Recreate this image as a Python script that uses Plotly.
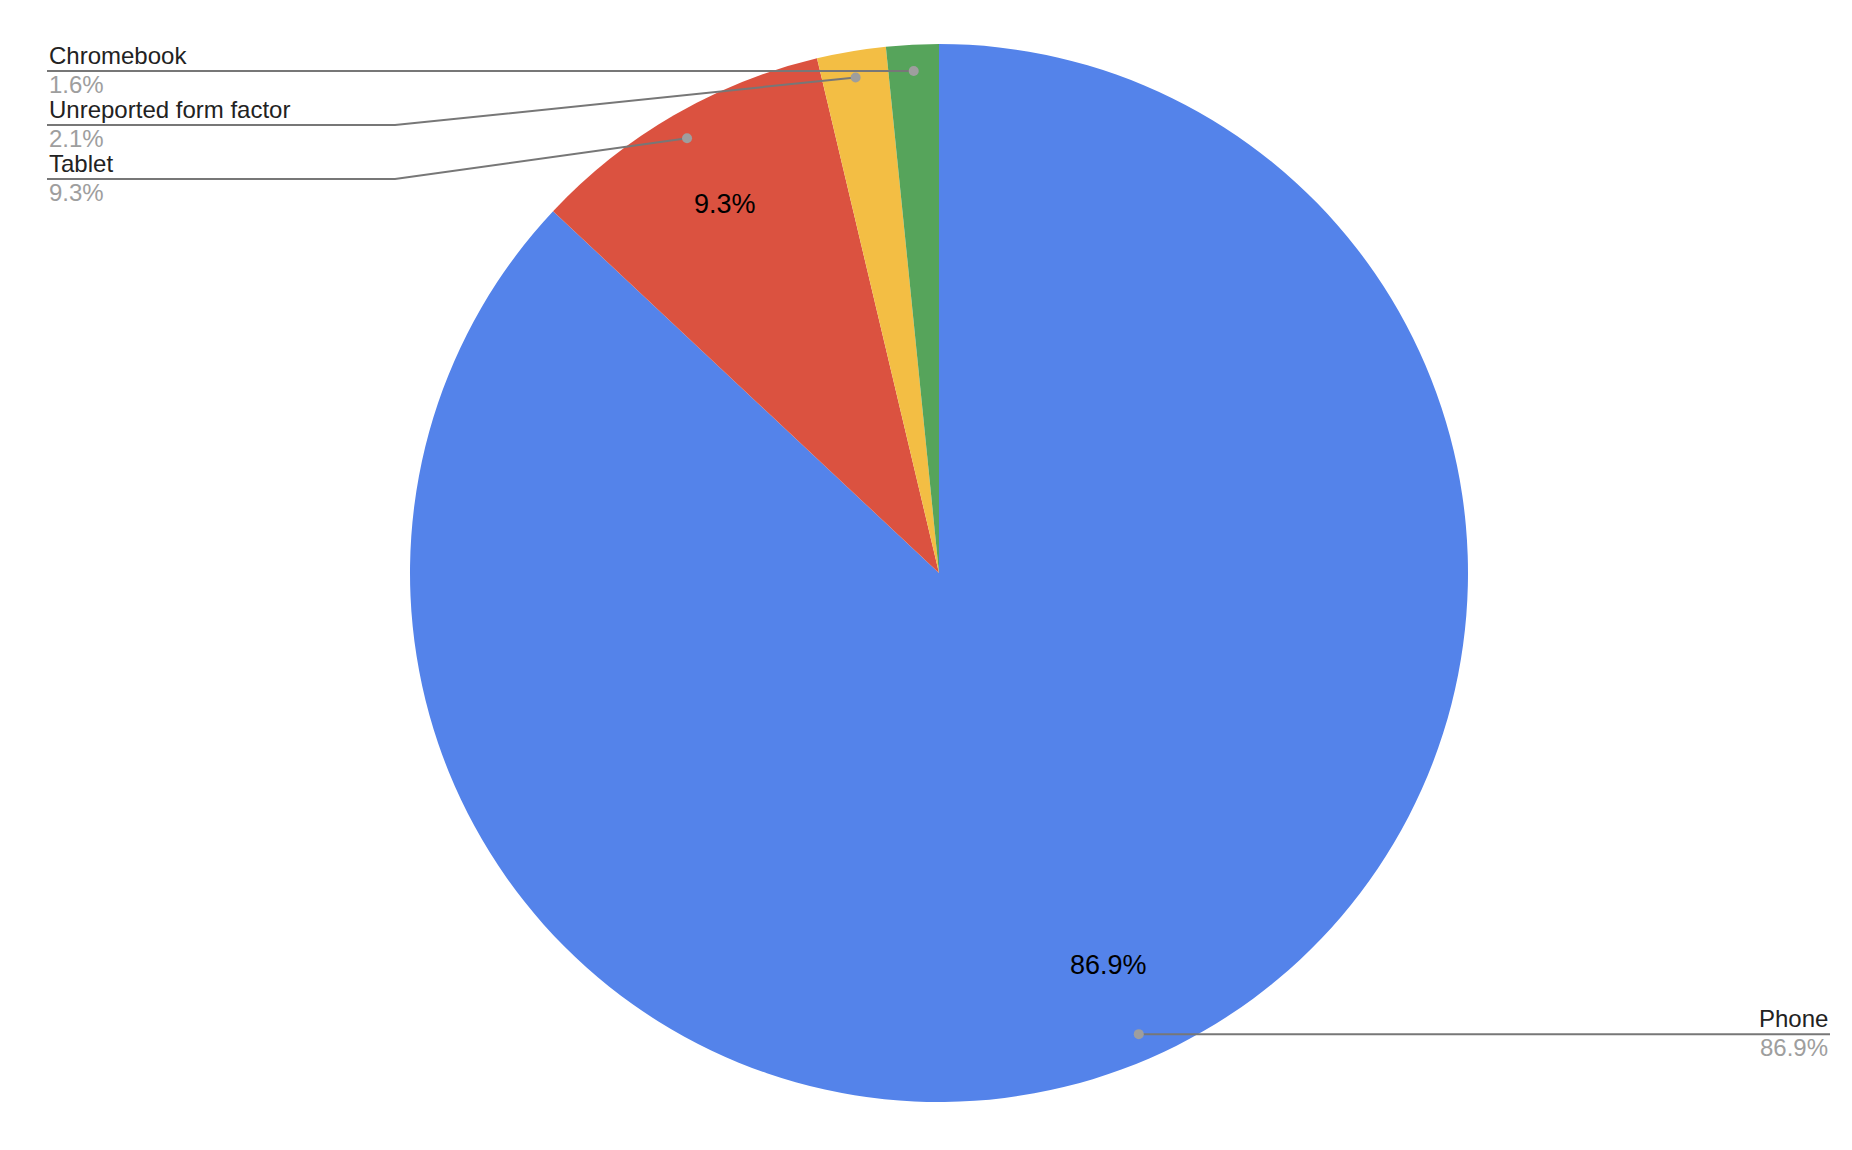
import math
import plotly.graph_objects as go

# Data
labels = ["Phone", "Tablet", "Unreported form factor", "Chromebook"]
values = [86.9, 9.3, 2.1, 1.6]
colors = ["#5483ea", "#db5240", "#f3be44", "#56a45b"]

# Page / pie geometry (pixels)
W, H = 1852, 1150
cx, cy, r = 939, 573, 529
FONT = "Liberation Sans, Arial, sans-serif"


def to_paper(x, y):
    return x / W, 1 - y / H


pie = go.Pie(
    labels=labels,
    values=values,
    sort=False,
    direction="clockwise",
    rotation=0,
    textinfo="none",
    hoverinfo="label+value",
    marker=dict(colors=colors, line=dict(width=0)),
    domain=dict(x=[(cx - r) / W, (cx + r) / W], y=[(H - cy - r) / H, (H - cy + r) / H]),
)

fig = go.Figure(pie)

total = sum(values)
annotations = []
shapes = []
cum = 0
left_rows = []
right_rows = []
for lab, val in zip(labels, values):
    mid = (cum + val / 2) / total
    cum += val
    ang = 2 * math.pi * mid
    # label inside the big slices
    if val >= 5:
        tx, ty = to_paper(cx + 0.807 * r * math.sin(ang), cy - 0.807 * r * math.cos(ang))
        annotations.append(dict(x=tx, y=ty, xref="paper", yref="paper", text="%.1f%%" % val,
                                showarrow=False, xanchor="center", yanchor="middle",
                                font=dict(family=FONT, size=27, color="#000000")))
    dx, dy = cx + 0.95 * r * math.sin(ang), cy - 0.95 * r * math.cos(ang)
    if dx < cx:
        left_rows.append((dy, dx, lab, val))
    else:
        right_rows.append((dy, dx, lab, val))

# stack left labels from the top
rows = []
prev = None
for dy, dx, lab, val in sorted(left_rows):
    ry = dy if prev is None else max(dy, prev + 54)
    prev = ry
    rows.append((dx, dy, ry, 47, 395, lab, val, "left"))
for dy, dx, lab, val in right_rows:
    rows.append((dx, dy, dy, 1830, None, lab, val, "right"))

for dx, dy, ry, ex, elbow, lab, val, side in rows:
    pts = [(dx, dy)]
    if elbow is not None and abs(ry - dy) > 1:
        pts.append((elbow, ry))
    pts.append((ex, ry))
    path = "M " + " L ".join("%f,%f" % to_paper(px, py) for px, py in pts)
    shapes.append(dict(type="path", path=path, xref="paper", yref="paper",
                       line=dict(color="#777777", width=2)))
    px, py = to_paper(dx, dy)
    shapes.append(dict(type="circle", xref="paper", yref="paper", xsizemode="pixel", ysizemode="pixel",
                       xanchor=px, yanchor=py, x0=-5, x1=5, y0=-5, y1=5,
                       fillcolor="#9e9e9e", line=dict(width=0)))
    nx, ny = to_paper(ex, ry - 16)
    vx, vy = to_paper(ex, ry + 13)
    annotations.append(dict(x=nx, y=ny, xref="paper", yref="paper", text=lab, showarrow=False,
                            xanchor=side, yanchor="middle",
                            font=dict(family=FONT, size=24, color="#222222")))
    annotations.append(dict(x=vx, y=vy, xref="paper", yref="paper", text="%.1f%%" % val, showarrow=False,
                            xanchor=side, yanchor="middle",
                            font=dict(family=FONT, size=24, color="#9e9e9e")))

fig.update_layout(
    width=W,
    height=H,
    margin=dict(l=0, r=0, t=0, b=0),
    paper_bgcolor="white",
    plot_bgcolor="white",
    showlegend=False,
    annotations=annotations,
    shapes=shapes,
)

fig.write_html("out.html", config={"displayModeBar": False},
               post_script="document.body.style.margin='0';")
